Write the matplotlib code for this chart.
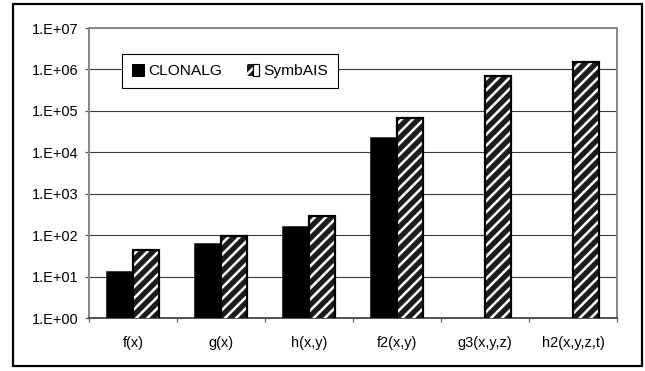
import numpy as np
import matplotlib
matplotlib.use("Agg")
import matplotlib.pyplot as plt
from matplotlib.patches import Patch, Rectangle
from matplotlib.legend_handler import HandlerTuple

DPI = 400 / 3
W, H = 645, 371


def px(v):
    """Convert a size in pixels to points."""
    return v * 72 / DPI


plt.rcParams['font.family'] = ['Liberation Sans', 'DejaVu Sans']
plt.rcParams['hatch.linewidth'] = px(2.5)

categories = ["f(x)", "g(x)", "h(x,y)", "f2(x,y)", "g3(x,y,z)", "h2(x,y,z,t)"]
clonalg = [12.6, 60, 158, 22000, np.nan, np.nan]
symbais = [45, 96, 288, 67000, 680000, 1470000]
y_tick_values = [1e0, 1e1, 1e2, 1e3, 1e4, 1e5, 1e6, 1e7]
y_tick_labels = ["1.E+00", "1.E+01", "1.E+02", "1.E+03", "1.E+04", "1.E+05", "1.E+06", "1.E+07"]

fig = plt.figure(figsize=(W / DPI, H / DPI), dpi=DPI)
fig.patch.set_facecolor("white")

# outer chart frame
fig.add_artist(Rectangle((13 / W, 1 - 366 / H), (642 - 13) / W, (366 - 4) / H,
                         transform=fig.transFigure, fill=False,
                         edgecolor="black", linewidth=px(2.2)))

ax = fig.add_axes([89 / W, 1 - 318 / H, (617 - 89) / W, (318 - 28) / H])
ax.set_yscale("log")
ax.set_ylim(1, 1e7)
ax.set_xlim(-0.5, len(categories) - 0.5)

x = np.arange(len(categories))
bw = 0.3

ax.bar(x - bw / 2, clonalg, width=bw, color="black", edgecolor="black",
       linewidth=px(1.5), zorder=3)
ax.bar(x + bw / 2, symbais, width=bw, color="#1c1c1c", edgecolor="white",
       linewidth=0, hatch="////", zorder=3)
ax.bar(x + bw / 2, symbais, width=bw, fill=False, edgecolor="black",
       linewidth=px(2.2), zorder=4)

# grid and frame
ax.yaxis.grid(True, which="major", color="#3a3a3a", linewidth=px(1.1), zorder=0)
for side in ["left", "right", "top", "bottom"]:
    ax.spines[side].set_color("#8a8a8a")
    ax.spines[side].set_linewidth(px(2))
ax.spines["bottom"].set_color("#555555")

ax.set_yticks(y_tick_values)
ax.set_yticklabels(y_tick_labels)
ax.yaxis.set_minor_locator(matplotlib.ticker.NullLocator())
ax.tick_params(axis="y", which="major", length=px(4), width=px(1.2),
               color="#555555", labelsize=px(14.5), pad=px(7), direction="out")

ax.set_xticks(np.arange(len(categories) + 1) - 0.5)
ax.set_xticklabels([])
ax.set_xticks(x, minor=True)
ax.set_xticklabels(categories, minor=True)
ax.tick_params(axis="x", which="major", length=px(4), width=px(1.2),
               color="#555555", direction="out")
ax.tick_params(axis="x", which="minor", length=0, labelsize=px(14.5), pad=px(18))

h1 = Patch(facecolor="black", edgecolor="black", linewidth=px(1))
h2a = Patch(facecolor="#1c1c1c", edgecolor="white", linewidth=0, hatch="////")
h2b = Patch(fill=False, edgecolor="black", linewidth=px(1.2))
leg = ax.legend([h1, (h2a, h2b)], ["CLONALG", "SymbAIS"],
                handler_map={tuple: HandlerTuple(ndivide=None, pad=0)},
                loc="center", bbox_to_anchor=(0.0606, 0.786, 0.4129, 0.131),
                ncol=2, fontsize=px(15.5), frameon=True, fancybox=False,
                edgecolor="black", framealpha=1, handlelength=0.77,
                handleheight=0.77, handletextpad=0.3, columnspacing=1.55,
                borderpad=0.65)
leg.get_frame().set_linewidth(px(1.1))
leg.set_zorder(5)

fig.savefig("out.png", dpi=DPI)
